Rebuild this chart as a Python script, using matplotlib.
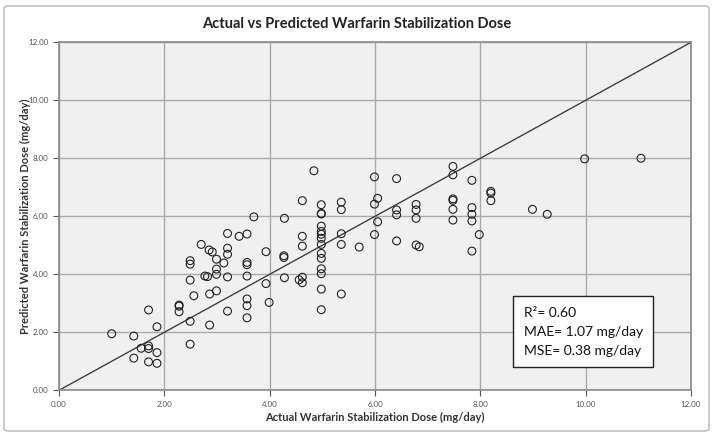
import numpy as np
import matplotlib.pyplot as plt
from matplotlib.patches import FancyBboxPatch

# actual vs predicted dose (mg/day)
actual = [1.00, 1.42, 1.42, 1.56, 1.70, 1.70, 1.70, 1.70, 1.86, 1.86, 1.86,
          2.28, 2.28, 2.28, 2.49, 2.49, 2.49, 2.49, 2.49, 2.56, 2.70, 2.77,
          2.82, 2.86, 2.86, 2.85, 2.91, 2.99, 2.99, 2.99, 2.99, 3.13, 3.20,
          3.20, 3.20, 3.20, 3.20, 3.42, 3.57, 3.57, 3.57, 3.57, 3.57, 3.57,
          3.57, 3.70, 3.93, 3.93, 3.99, 4.28, 4.27, 4.27, 4.28, 4.56, 4.62,
          4.62, 4.62, 4.62, 4.62, 4.84, 4.98, 4.98, 4.98, 4.98, 4.98, 4.98,
          4.98, 4.98, 4.98, 4.98, 4.98, 4.98, 4.98, 4.98, 5.36, 5.36, 5.36,
          5.36, 5.36, 5.70, 5.99, 5.99, 5.99, 6.05, 6.05, 6.41, 6.41, 6.41,
          6.41, 6.78, 6.78, 6.78, 6.78, 6.84, 7.48, 7.48, 7.48, 7.48, 7.48,
          7.48, 7.84, 7.84, 7.84, 7.84, 7.84, 7.98, 8.20, 8.20, 8.20, 8.99,
          9.27, 9.98, 11.05]
predicted = [1.95, 1.87, 1.11, 1.45, 1.53, 1.44, 2.77, 0.98, 2.19, 1.30, 0.93,
             2.94, 2.90, 2.71, 2.38, 1.59, 4.47, 4.35, 3.80, 3.26, 5.03, 3.94,
             3.92, 3.32, 2.25, 4.84, 4.77, 4.52, 4.18, 4.00, 3.43, 4.39, 5.41,
             4.90, 4.69, 3.91, 2.73, 5.31, 5.39, 4.41, 4.33, 3.94, 3.15, 2.92,
             2.50, 5.98, 4.78, 3.68, 3.03, 5.93, 4.64, 4.58, 3.88, 3.81, 6.54,
             5.31, 4.97, 3.90, 3.71, 7.57, 6.40, 6.10, 6.08, 5.66, 5.48, 5.38,
             5.24, 5.03, 4.72, 4.55, 4.19, 4.02, 3.49, 2.78, 6.49, 6.23, 5.40,
             5.03, 3.32, 4.94, 7.36, 6.42, 5.37, 6.62, 5.81, 7.30, 6.22, 6.05,
             5.15, 6.41, 6.22, 5.93, 5.01, 4.95, 7.72, 7.43, 6.60, 6.55, 6.24,
             5.87, 7.24, 6.30, 6.07, 5.84, 4.80, 5.37, 6.86, 6.80, 6.54, 6.24,
             6.07, 7.98, 8.00]

ticks = [0, 2, 4, 6, 8, 10, 12]
tick_labels = ['0.00', '2.00', '4.00', '6.00', '8.00', '10.00', '12.00']

plt.rcParams['font.family'] = ['Lato', 'DejaVu Sans']

fig = plt.figure(figsize=(7.14, 4.38), dpi=100)
ax = fig.add_axes([59 / 714, 1 - 390.3 / 438, 632 / 714, 348 / 438])
ax.set_facecolor('#f0f0f0')

# outer frame around the figure
frame = FancyBboxPatch((4 / 714, 7 / 438), 705 / 714, 425 / 438,
                       boxstyle='round,pad=0,rounding_size=0.006',
                       transform=fig.transFigure, fill=False,
                       edgecolor='#b5b5b5', lw=1.0)
fig.patches.append(frame)

ax.plot([0, 12], [0, 12], color='#404040', lw=1.0, zorder=2)
ax.scatter(actual, predicted, s=32, facecolors='none', edgecolors='#222222',
           linewidths=0.8, zorder=3)

ax.set_xlim(0, 12)
ax.set_ylim(0, 12)
ax.set_xticks(ticks)
ax.set_yticks(ticks)
ax.set_xticklabels(tick_labels)
ax.set_yticklabels(tick_labels)
ax.tick_params(labelsize=5.8, colors='#555555', length=4, width=0.8)
ax.grid(True, color='#aaaaaa', lw=1.0)
ax.set_axisbelow(True)
for s in ax.spines.values():
    s.set_color('#8a8a8a')
    s.set_linewidth(1.2)

ax.set_xlabel('Actual Warfarin Stabilization Dose (mg/day)', fontsize=8,
              fontweight='bold', color='#333333', labelpad=3)
fig.text(25 / 714, 1 - 216 / 438,
         'Predicted Warfarin Stabilization Dose (mg/day)', rotation=90,
         ha='center', va='center', fontsize=8, fontweight='bold',
         color='#333333')
fig.text(0.5, 1 - 24 / 438, 'Actual vs Predicted Warfarin Stabilization Dose',
         ha='center', va='center', fontsize=10.5, fontweight='bold',
         color='#222222')

ax.text(0.735, 0.24, 'R²= 0.60\nMAE= 1.07 mg/day\nMSE= 0.38 mg/day',
        transform=ax.transAxes, fontsize=10, color='#111111', linespacing=1.7,
        va='top', ha='left',
        bbox=dict(boxstyle='square,pad=0.75', facecolor='white',
                  edgecolor='#222222', lw=1.0))

plt.savefig('out.png', dpi=100)
